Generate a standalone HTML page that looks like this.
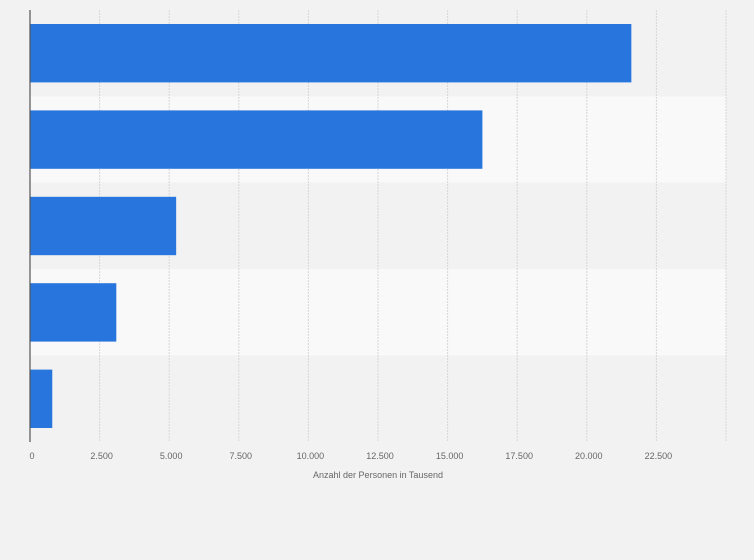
<!DOCTYPE html>
<html><head><meta charset="utf-8"><style>
html,body{margin:0;padding:0;background:#f2f2f2;}
svg{display:block;font-family:"Liberation Sans",sans-serif;}
</style></head><body>
<svg id="chart" width="754" height="560" viewBox="0 0 754 560" xmlns="http://www.w3.org/2000/svg">
<rect width="754" height="560" fill="#f2f2f2"/>
<g id="bands"></g><g id="grid"></g><g id="bars"></g><g id="ticks"></g>
<line x1="30" y1="10" x2="30" y2="442" stroke="#555" stroke-width="1.2"/>
<text x="378" y="478" font-size="9" fill="#666" text-anchor="middle">Anzahl der Personen in Tausend</text>
</svg>
<script>
const categories = ["A","B","C","D","E"];
const values = [21600, 16250, 5250, 3100, 800];
const tickValues = [0,2500,5000,7500,10000,12500,15000,17500,20000,22500];
const tickLabels = ["0","2.500","5.000","7.500","10.000","12.500","15.000","17.500","20.000","22.500"];
const NS="http://www.w3.org/2000/svg";
const x0=30, x1=726, xMax=25000, yTop=10, yBot=442;
const xs=v=>x0+(v/xMax)*(x1-x0);
const band=(yBot-yTop)/categories.length;
const mk=(t,a,p)=>{const e=document.createElementNS(NS,t);for(const k in a)e.setAttribute(k,a[k]);p.appendChild(e);return e;};
const bands=document.getElementById('bands'),grid=document.getElementById('grid'),bars=document.getElementById('bars'),ticks=document.getElementById('ticks');
categories.forEach((c,i)=>{
  const b=mk('rect',{x:x0,y:yTop+i*band,width:x1-x0,height:band,fill:i%2?'#f9f9f9':'#f2f2f2'},bands);
  
  
});
tickValues.forEach((v,i)=>{
  if(v>0){const g=mk('line',{x1:xs(v),x2:xs(v),y1:yTop,y2:yBot,stroke:'#d6d6d6','stroke-dasharray':'2,1'},grid);
  
  }
  const t=mk('text',{x:xs(v)+2,y:459,'font-size':9,fill:'#666','text-anchor':'middle'},ticks);
  t.textContent=tickLabels[i];
  
  
});
const g2=mk('line',{x1:x1,x2:x1,y1:yTop,y2:yBot,stroke:'#d6d6d6','stroke-dasharray':'2,1'},grid);


values.forEach((v,i)=>{
  const y=yTop+i*band+14;
  const r=mk('rect',{x:x0,y:y,width:xs(v)-x0,height:band-28,fill:'#2876dd'},bars);
  
  
});
</script>
</body></html>
